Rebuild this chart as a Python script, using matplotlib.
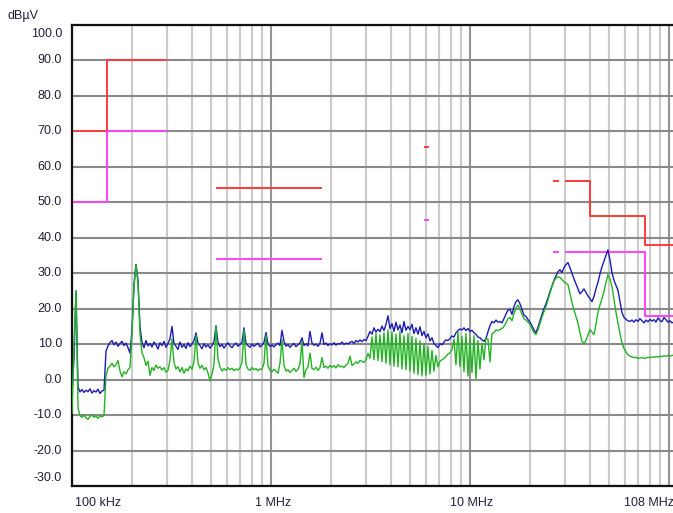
import numpy as np
import matplotlib
matplotlib.use("Agg")
import matplotlib.pyplot as plt
from matplotlib.transforms import blended_transform_factory, offset_copy

plt.rcParams['font.family'] = ['Liberation Sans', 'DejaVu Sans']

# ---- sweep definition (analyzer frequency grid) ----
f_start_mhz = 0.1
pts_per_decade = 99.5

# ---- peak detector trace (dBuV) ----
peak_dbuv = [
    -4, 6, 25, -2, -3.5, -2.8, -3.6, -3.0, -3.4, -2.6, -3.8, -3.1, -3.5, -2.7, -3.9, -3.2, -3.0,
    8,
    9.5, 10.5, 11.0, 9.8, 10.6, 9.4, 10.2, 10.8, 9.6, 10.3, 9.0, 7.5,
    14, 27, 32.5, 28, 15,
    10.5, 9.0, 11.0, 9.5, 10.2, 9.2, 10.6, 9.8, 8.6, 10.4, 9.6, 10.8, 9.1, 10.2, 11.5,
    15,
    10.2, 9.4, 8.5, 10.6, 9.1, 9.9, 8.8, 10.4, 9.3, 10.1, 11.0,
    13.2,
    10.3, 9.6, 8.7, 10.1, 9.2, 9.8, 8.9, 9.6, 10.8,
    15.2,
    10.5, 9.3, 9.9, 8.9, 9.7, 10.4, 9.5, 9.0, 9.8, 10.3, 9.4, 9.9, 10.6,
    14.6,
    10.2, 9.6, 9.1, 10.0, 9.4, 9.8, 10.3, 9.2, 9.7, 10.5,
    13.3,
    10.1, 9.4, 9.8, 9.2, 9.9, 10.3, 9.6,
    13.9, 10.8,
    9.4, 9.9, 9.1, 9.7, 10.2, 9.3, 9.8, 10.4,
    11.8,
    9.6, 10.1, 9.5,
    13.6,
    10.3, 9.7, 10.0, 9.4, 10.2,
    13.2,
    9.9, 10.3, 9.6, 10.1, 9.8, 10.4, 9.7, 10.2, 10.0, 10.6, 9.9, 10.3, 10.1,
    10.5, 10.8, 10.2, 11.0, 10.6, 11.2, 10.7, 11.3, 11.0, 12.2,
    13.6, 12.8, 14.6, 13.4,
    14.2, 13.5, 15.1, 13.8, 15.6, 18.0, 14.4, 15.8, 13.6, 16.2,
    14.0, 15.4, 13.2, 16.4, 13.9, 15.0, 14.1, 15.6, 13.0, 14.6,
    12.8, 14.9, 12.4, 13.6, 11.8, 12.9, 10.9, 11.8, 10.2, 9.6,
    9.0, 10.2, 9.8, 10.6, 11.2, 11.0, 11.6, 12.3, 12.0, 13.2,
    13.8, 14.3, 14.0, 14.6, 13.8, 14.4, 13.6,
    13.9, 13.2, 12.8, 12.0, 11.8, 11.2, 10.8, 11.6, 13.5, 15.2, 16.4, 16.0, 16.8, 16.2,
    16.4, 16.0, 17.2, 18.5, 19.6, 19.8, 18.4, 20.6, 22.0, 22.5, 21.4, 19.8, 18.2, 17.8, 17.0, 16.2,
    15.2, 14.0, 13.2, 14.8, 16.6, 18.4, 20.0, 21.4, 23.0, 24.8, 26.4, 28.0, 29.2, 30.4, 31.0, 30.2, 31.6, 32.4,
    33.0, 31.6, 30.0, 28.4, 27.0, 25.6, 24.2, 24.8, 25.6, 24.6, 23.6, 22.8, 22.0, 23.4, 25.6, 27.4, 29.8,
    31.8, 33.4, 35.0, 36.6, 33.8, 30.2, 28.0, 26.6, 25.2, 22.0, 18.9, 17.6, 17.0, 16.6, 16.4,
    16.8, 16.2, 16.9, 16.4, 17.2, 16.6, 16.0, 16.8, 16.3, 17.0, 16.5, 16.9, 16.2, 17.4, 16.7, 16.3,
    17.5, 16.9, 16.2, 16.6, 16.0, 16.3,
]

# ---- average detector trace (dBuV) ----
avg_dbuv = [
    -9.5, 10, 25, -8, -10.2, -10.6, -10.0, -10.8, -11.2, -10.4, -10.0, -10.6, -10.3, -10.9, -10.2, -10.5, -10.1,
    1.0,
    3.2, 3.8, 4.6, 3.6, 4.2, 5.4, 2.4, 0.8, 2.2, 1.6, 2.8, 3.4,
    13, 26, 32.4, 27, 13,
    7.5, 6.2, 4.0, 5.2, 1.2, 3.4, 2.6, 4.1, 3.2, 3.6, 2.7, 3.4, 2.1, 2.6, 5.5,
    11.5,
    4.8, 3.0, 3.6, 2.2, 3.4, 1.8, 3.0, 2.5, 3.8, 2.9, 5.0,
    12.5,
    4.6, 3.2, 4.0, 2.8, 3.4, 1.9, -0.4, 1.6, 4.2,
    15.0,
    5.8, 3.6, 2.4, 3.1, 2.6, 3.4, 2.8, 3.2, 2.5, 3.0, 2.7, 3.3, 4.8,
    14.0,
    4.2, 3.0, 2.6, 3.4, 2.8, 3.1, 2.5, 3.0, 2.9, 4.6,
    12.5,
    3.8, 2.6, 2.2, 2.9, 2.4, 1.8, 4.6,
    11.3, 4.0,
    2.4, 2.8, 2.0, 2.6, 3.2, 2.3, 2.9, 4.4,
    10.8,
    0.6, 2.8, 3.6,
    7.5,
    3.2, 2.8, 3.5, 2.6, 3.4,
    6.2,
    3.4, 3.8, 3.2, 4.0, 3.5, 3.9, 3.3, 4.2, 3.6, 3.8, 3.4, 4.1, 4.6,
    6.6, 4.0, 4.4, 5.0, 4.6, 5.4, 5.2, 4.8, 5.6, 7.4,
    6.0, 12.0, 5.6, 13.0,
    5.4, 12.6, 5.0, 13.2, 4.6, 14.0, 4.2, 13.4, 3.8, 12.8,
    3.6, 13.6, 3.0, 12.4, 2.8, 13.0, 2.4, 12.2, 1.8, 11.6,
    1.4, 11.0, 1.0, 10.2, 1.2, 9.4, 1.6, 8.2, 2.4, 6.8,
    3.6, 5.2, 5.6, 6.0, 6.6, 7.2, 7.6, 8.4, 11.4, 4.2,
    13.4, 3.6, 12.2, 2.2, 13.0, 1.0, 11.6,
    2.0, 12.4, 0.2, 11.0, 3.0, 10.2, 5.6, 11.8, 11.4, 5.0, 13.0, 13.2, 14.0, 13.8,
    14.1, 14.4, 15.0, 16.0, 17.2, 17.5, 16.6, 18.6, 20.2, 21.0, 20.0, 18.4, 17.2, 16.8, 16.2, 15.6,
    14.4, 13.2, 12.7, 14.0, 15.8, 17.6, 19.2, 20.6, 22.4, 24.4, 26.2, 27.8, 28.6, 29.0, 28.8, 28.2, 27.6, 27.2,
    26.8, 24.4, 21.7, 19.6, 17.8, 16.0, 13.2, 10.8, 10.2, 11.0, 12.6, 14.1, 13.4, 12.7, 15.6, 18.9, 21.0,
    22.8, 24.8, 27.4, 29.6, 28.4, 26.3, 22.6, 19.0, 16.0, 13.0, 10.4, 8.8, 7.8, 7.0, 6.6,
    6.4, 6.2, 6.3, 6.0, 6.1, 6.2, 6.0, 6.1, 6.3, 6.2, 6.4, 6.3, 6.5, 6.4, 6.6, 6.5,
    6.7, 6.6, 6.8, 6.7, 6.8, 6.9,
]

# ---- limit lines (MHz, dBuV) ----
peak_limit_segments = [
    ([0.1, 0.15, 0.15, 0.3], [70, 70, 90, 90]),
    ([0.53, 1.8], [54, 54]),
    ([5.9, 6.2], [65.5, 65.5]),
    ([26, 28], [56, 56]),
    ([30, 40, 40, 76, 76, 108], [56, 56, 46, 46, 38, 38]),
]
avg_limit_segments = [
    ([0.1, 0.15, 0.15, 0.3], [50, 50, 70, 70]),
    ([0.53, 1.8], [34, 34]),
    ([5.9, 6.2], [45, 45]),
    ([26, 28], [36, 36]),
    ([30, 76, 76, 108], [36, 36, 18, 18]),
]

y_ticks = [100, 90, 80, 70, 60, 50, 40, 30, 20, 10, 0, -10, -20, -30]
x_major = [0.1, 1, 10, 100]
x_labels = [(0.1, "100 kHz", "left"), (1, "1 MHz", "center"),
            (10, "10 MHz", "center"), (108, "108 MHz", "right")]

peak_freq = f_start_mhz * 10 ** (np.arange(len(peak_dbuv)) / pts_per_decade)
avg_freq = f_start_mhz * 10 ** (np.arange(len(avg_dbuv)) / pts_per_decade)

text_color = '#20203a'

fig = plt.figure(figsize=(6.73, 5.13), dpi=100)
fig.patch.set_facecolor('white')
ax = fig.add_axes([72 / 673, (513 - 486) / 513, 603.6 / 673, 461 / 513])
ax.set_xscale('log')
ax.set_xlim(0.1, 108)
ax.set_ylim(-30, 100)

minor_x = [m * d for d in (0.1, 1, 10) for m in range(2, 10)]
ax.set_xticks(x_major)
ax.set_xticks(minor_x, minor=True)
ax.set_yticks(y_ticks)
ax.set_xticklabels([])
ax.set_xticklabels([], minor=True)
ax.set_yticklabels([])
ax.tick_params(which='both', length=0)

ax.grid(True, which='major', axis='y', color='#8a8a8a', lw=1.5)
ax.grid(True, which='major', axis='x', color='#939393', lw=1.5)
ax.grid(True, which='minor', axis='x', color='#cbcbcb', lw=1.5)
ax.set_axisbelow(True)

for s in ('left', 'bottom', 'top'):
    ax.spines[s].set_color('#111111')
    ax.spines[s].set_linewidth(1.6)
ax.spines['right'].set_visible(False)

for xs, ys in peak_limit_segments:
    ax.plot(xs, ys, color='#ff3a3a', lw=1.4, zorder=2, solid_capstyle='butt')
for xs, ys in avg_limit_segments:
    ax.plot(xs, ys, color='#ff40ff', lw=1.4, zorder=2, solid_capstyle='butt')

ax.plot(peak_freq, peak_dbuv, color='#1c1cb4', lw=1.0, zorder=3)
ax.plot(avg_freq, avg_dbuv, color='#22b322', lw=1.0, zorder=4)

# y tick labels
ytrans = blended_transform_factory(ax.transAxes, ax.transData)
for v in y_ticks:
    dy = 0
    if v == y_ticks[0]:
        dy = -9
    elif v == y_ticks[-1]:
        dy = 8
    tr = offset_copy(ytrans, fig=fig, x=-10, y=dy, units='dots')
    ax.text(0, v, f"{v:.1f}", transform=tr, ha='right', va='center',
            fontsize=9, color=text_color, clip_on=False)

# x labels
xtrans = blended_transform_factory(ax.transData, ax.transAxes)
for fx, lab, ha in x_labels:
    dx = 3 if ha == 'left' else (-2 if ha == 'right' else 2)
    tr = offset_copy(xtrans, fig=fig, x=dx, y=-17, units='dots')
    ax.text(fx, 0, lab, transform=tr, ha=ha, va='center', fontsize=9,
            color=text_color, clip_on=False)

fig.text(8 / 673, 1 - 16 / 513, "dBµV", ha='left', va='center', fontsize=9,
         color=text_color)

fig.savefig('out.png', dpi=100)
